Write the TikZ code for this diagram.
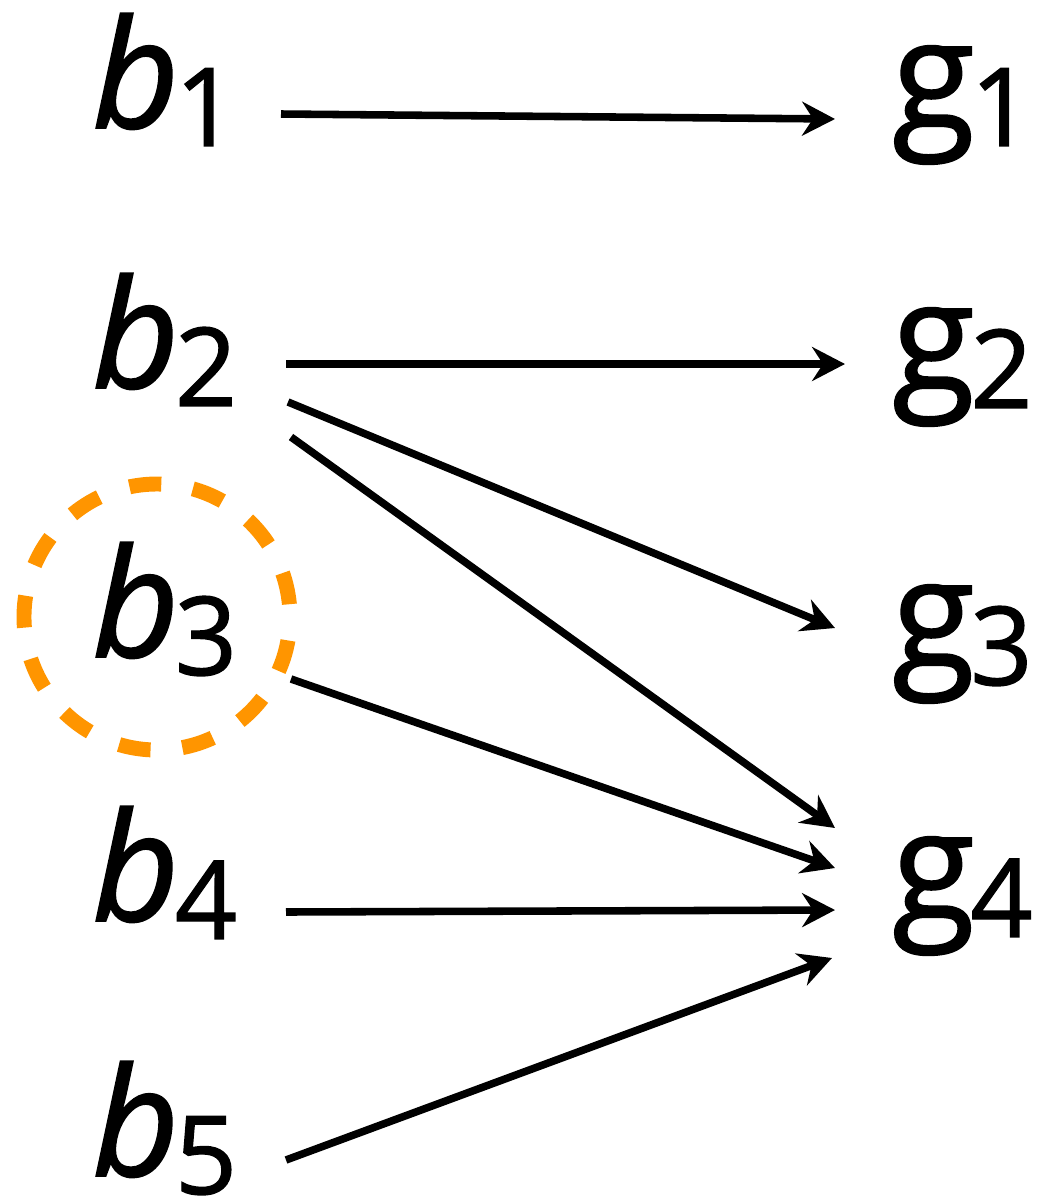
\documentclass[tikz,border=0pt]{standalone}
\usepackage{fontspec}
\setmainfont{Open Sans}[FakeBold=1.2]
\usetikzlibrary{arrows.meta}
\definecolor{ring}{HTML}{FF9500}
\newcommand\lbl[2]{{\fontsize{86}{86}\selectfont #1}\kern-2.5pt\raisebox{-10.2pt}{\fontsize{62}{62}\selectfont #2}}
\begin{document}
\begin{tikzpicture}[x=0.02cm,y=-0.02cm,
  lab/.style={anchor=base west,inner sep=0pt,outer sep=0pt},
  edge/.style={line width=4.3pt,-{Stealth[length=18.7pt,width=19.3pt,inset=6.2pt]}},
  ringstyle/.style={draw=ring,line width=8.5pt,dash pattern=on 18.2pt off 18.2pt,dash phase=23pt}]
\useasboundingbox (0,0) rectangle (1037,1201);
% labels
\node[lab] (b1) at (92,128) {\lbl{\itshape b}{1}};
\node[lab] (b2) at (92,388) {\lbl{\itshape b}{2}};
\node[lab] (b3) at (92,657) {\lbl{\itshape b}{3}};
\node[lab] (b4) at (92,921) {\lbl{\itshape b}{4}};
\node[lab] (b5) at (92,1176) {\lbl{\itshape b}{5}};
\node[lab] (g1) at (892,128) {\lbl{g}{1}};
\node[lab] (g2) at (892,390) {\lbl{g}{2}};
\node[lab] (g3) at (892,667) {\lbl{g}{3}};
\node[lab] (g4) at (892,919) {\lbl{g}{4}};
% dashed ring around b3
\coordinate (rc) at (157,617);
\draw[ringstyle] (rc) circle[radius=133];
% connector end points
\coordinate (s1) at (281,114);  \coordinate (t1) at (835,119);
\coordinate (s2) at (286,364);  \coordinate (t2) at (845,364);
\coordinate (s3) at (288,402);  \coordinate (t3) at (835,628);
\coordinate (s4) at (291,437);  \coordinate (t4) at (835,828);
\coordinate (s5) at (291,679);  \coordinate (t5) at (835,868);
\coordinate (s6) at (286,912);  \coordinate (t6) at (835,910);
\coordinate (s7) at (286,1160); \coordinate (t7) at (832,958);
\foreach \i in {1,...,7}{\draw[edge] (s\i) -- (t\i);}
\end{tikzpicture}
\end{document}
